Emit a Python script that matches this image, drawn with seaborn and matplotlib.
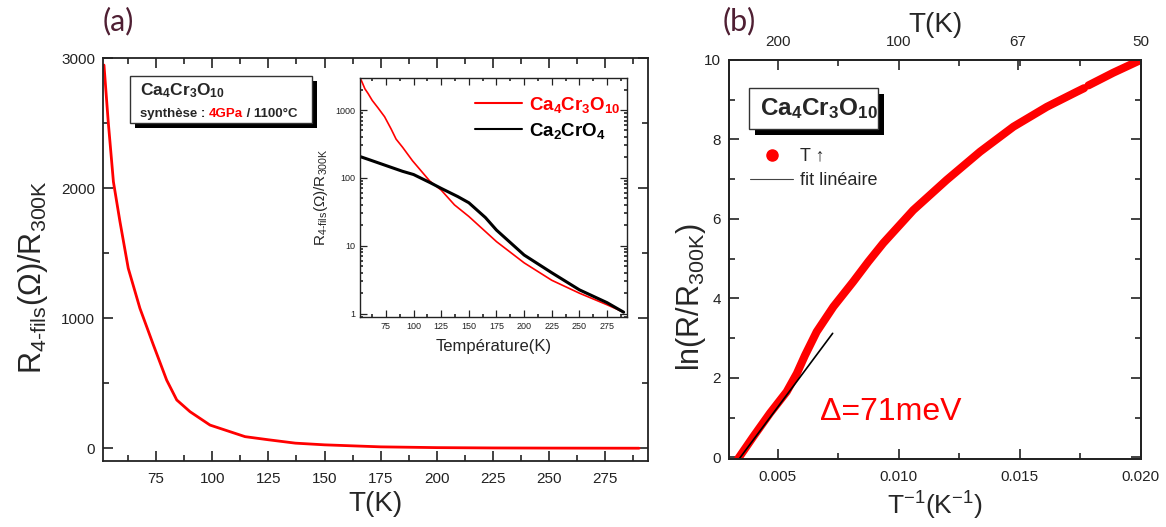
import numpy as np
import pandas as pd
import matplotlib
matplotlib.use('Agg')
import matplotlib.pyplot as plt
import seaborn as sns
from matplotlib.ticker import MultipleLocator, LogLocator, NullFormatter, FormatStrFormatter
from matplotlib.lines import Line2D
from matplotlib.patches import Rectangle

# (a) Ca4Cr3O10 : R/R300K vs T
temp_k = [51.8, 53.7, 56, 58.9, 62.6, 67.8, 73.8, 79.7, 84.2, 90.1, 99, 114.6, 125, 137,
          150, 175, 200, 225, 250, 275, 290]
r_ca4 = [2948, 2510, 2050, 1745, 1385, 1077, 795, 525, 372, 282, 179, 90, 66, 40,
         27, 11.5, 5.6, 3.1, 2.0, 1.35, 1.05]

# inset : Ca2CrO4 reference
temp_k2 = [52, 60, 75, 90, 100, 115, 125, 140, 150, 165, 175, 200, 225, 250, 275, 290]
r_ca2 = [205, 185, 152, 125, 112, 85, 70, 53, 43, 26, 17, 7.3, 4.0, 2.24, 1.45, 1.05]

# (b) ln(R/R300K) vs 1/T, two runs (small gap near 57 K)
inv_t = [0.00337, 0.00399, 0.00468, 0.00537, 0.00579, 0.00613, 0.00661, 0.0073, 0.00812,
         0.00874, 0.00936, 0.0106, 0.01198, 0.01336, 0.01474, 0.01612, 0.01736, 0.01766,
         0.01784, 0.01887, 0.0200]
ln_r = [-0.03, 0.52, 1.11, 1.65, 2.11, 2.57, 3.16, 3.79, 4.42,
        4.92, 5.39, 6.22, 6.98, 7.69, 8.32, 8.82, 9.20, 9.29,
        9.36, 9.68, 10.0]
run = [1] * 18 + [2] * 3

fit_x = [0.00337, 0.00727]
fit_y = [-0.07, 3.12]

top_ticks = [1 / 200, 1 / 100, 1 / 67, 1 / 50]
top_labels = ['200', '100', '67', '50']

label_a = r'$\mathbf{Ca_4Cr_3O_{10}}$'
label_ref = r'$\mathbf{Ca_2CrO_4}$'

sns.set_style('ticks')
plt.rcParams['font.family'] = ['Liberation Sans', 'DejaVu Sans']
plt.rcParams['mathtext.fontset'] = 'custom'
plt.rcParams['mathtext.rm'] = 'Liberation Sans'
plt.rcParams['mathtext.it'] = 'Liberation Sans:italic'
plt.rcParams['mathtext.bf'] = 'Liberation Sans:bold'
plt.rcParams['mathtext.default'] = 'regular'
plt.rcParams['axes.edgecolor'] = '#222222'
plt.rcParams['axes.linewidth'] = 1.3

fig = plt.figure(figsize=(11.66, 5.27), dpi=100)
ax_a = fig.add_axes([0.0886, 0.1258, 0.4672, 0.7636])
ax_in = fig.add_axes([0.3087, 0.399, 0.229, 0.4524])
ax_b = fig.add_axes([0.6255, 0.1285, 0.3528, 0.7577])


def style_ticks(ax, size, major=7, minor=4):
    ax.tick_params(which='both', direction='in', top=True, right=True, width=1.2,
                   labelsize=size, colors='#222222')
    ax.tick_params(which='major', length=major)
    ax.tick_params(which='minor', length=minor)


# ---- panel (a) ----
sns.lineplot(x=temp_k, y=r_ca4, ax=ax_a, color='red', lw=2)
ax_a.set_xlim(51.5, 294)
ax_a.set_ylim(-95, 3000)
ax_a.xaxis.set_major_locator(MultipleLocator(25))
ax_a.xaxis.set_minor_locator(MultipleLocator(12.5))
ax_a.yaxis.set_major_locator(MultipleLocator(1000))
ax_a.yaxis.set_minor_locator(MultipleLocator(500))
style_ticks(ax_a, 11)
ax_a.tick_params(axis='y', pad=6)
ax_a.tick_params(axis='x', pad=8)
ax_a.set_xlabel('T(K)', fontsize=20)
ax_a.set_ylabel(r'R$_{4\text{-}fils}$(Ω)/R$_{300K}$', fontsize=22)
ax_a.yaxis.set_label_coords(-0.098, 0.4565)

ax_a.add_patch(Rectangle((0.058, 0.826), 0.334, 0.118, transform=ax_a.transAxes,
                         facecolor='black', edgecolor='none', zorder=5))
ax_a.add_patch(Rectangle((0.049, 0.8385), 0.334, 0.1175, transform=ax_a.transAxes,
                         facecolor='white', edgecolor='#333333', lw=1, zorder=6))
ax_a.text(0.0675, 0.909, label_a, transform=ax_a.transAxes, fontsize=12.5,
          va='baseline', zorder=7)
t1 = ax_a.text(0.0675, 0.853, 'synthèse : ', transform=ax_a.transAxes, fontsize=9.5,
               fontweight='bold', va='baseline', zorder=7)
t2 = ax_a.annotate('4GPa', xy=(1, 0), xycoords=t1, va='bottom', fontsize=9.5,
                   fontweight='bold', color='red', zorder=7)
ax_a.annotate(' / 1100°C', xy=(1, 0), xycoords=t2, va='bottom', fontsize=9.5,
              fontweight='bold', zorder=7)

# ---- inset ----
sns.lineplot(x=temp_k, y=r_ca4, ax=ax_in, color='red', lw=1.2, label=label_a)
sns.lineplot(x=temp_k2, y=r_ca2, ax=ax_in, color='black', lw=2.2, label=label_ref)
ax_in.set_yscale('log')
ax_in.set_xlim(51.5, 293)
ax_in.set_ylim(0.9, 2930)
ax_in.set_yticks([1, 10, 100, 1000])
ax_in.set_yticklabels(['1', '10', '100', '1000'])
ax_in.yaxis.set_minor_locator(LogLocator(base=10, subs=np.arange(2, 10)))
ax_in.yaxis.set_minor_formatter(NullFormatter())
ax_in.xaxis.set_major_locator(MultipleLocator(25))
ax_in.xaxis.set_minor_locator(MultipleLocator(12.5))
style_ticks(ax_in, 6.5, major=5, minor=2.5)
ax_in.tick_params(width=0.9)
for sp in ax_in.spines.values():
    sp.set_linewidth(1.0)
ax_in.set_xlabel('Température(K)', fontsize=12, labelpad=6)
ax_in.set_ylabel(r'R$_{4\text{-}fils}$(Ω)/R$_{300K}$', fontsize=11, labelpad=4)
leg = ax_in.legend(loc='upper left', bbox_to_anchor=(0.43, 0.93), frameon=False,
                   prop={'size': 13.5}, handlelength=2.5,
                   handletextpad=0.4, labelspacing=0.3, borderpad=0, borderaxespad=0)
for txt, ln in zip(leg.get_texts(), leg.get_lines()):
    txt.set_color(ln.get_color())
    ln.set_linewidth(1.5)

# ---- panel (b) ----
sns.lineplot(x=inv_t, y=ln_r, units=run, estimator=None, ax=ax_b, color='red',
             lw=5.8, solid_capstyle='round')
sns.lineplot(x=fit_x, y=fit_y, ax=ax_b, color='black', lw=1.2)
ax_b.set_xlim(0.003, 0.020)
ax_b.set_ylim(-0.05, 10)
ax_b.xaxis.set_major_locator(MultipleLocator(0.005))
ax_b.xaxis.set_minor_locator(MultipleLocator(0.0025))
ax_b.xaxis.set_major_formatter(FormatStrFormatter('%.3f'))
ax_b.yaxis.set_major_locator(MultipleLocator(2))
ax_b.yaxis.set_minor_locator(MultipleLocator(1))
style_ticks(ax_b, 11)
ax_b.tick_params(top=False, pad=8, axis='x')
ax_b.tick_params(axis='y', pad=6)
ax_b.set_xlabel('T$^{-1}$(K$^{-1}$)', fontsize=19)
ax_b.set_ylabel('ln(R/R$_{300K}$)', fontsize=22)
ax_b.yaxis.set_label_coords(-0.052, 0.406)

top = ax_b.twiny()
top.set_xlim(ax_b.get_xlim())
top.set_xticks(top_ticks)
top.set_xticklabels(top_labels)
top.xaxis.set_minor_locator(MultipleLocator(0.0025))
top.tick_params(which='both', direction='in', width=1.2, labelsize=11, pad=8)
top.tick_params(which='major', length=7)
top.tick_params(which='minor', length=4)
top.set_xlabel('T(K)', fontsize=20, labelpad=2)

ax_b.add_patch(Rectangle((0.063, 0.811), 0.312, 0.103, transform=ax_b.transAxes,
                         facecolor='black', edgecolor='none', zorder=5))
ax_b.add_patch(Rectangle((0.0486, 0.8264), 0.312, 0.1027, transform=ax_b.transAxes,
                         facecolor='white', edgecolor='#333333', lw=1, zorder=6))
ax_b.text(0.0746, 0.862, label_a, transform=ax_b.transAxes, fontsize=17.5,
          va='baseline', zorder=7)

handles = [Line2D([], [], ls='none', marker='o', color='red', ms=8),
           Line2D([], [], color='#444444', lw=0.8)]
ax_b.legend(handles, ['T ↑', 'fit linéaire'], loc='upper left', bbox_to_anchor=(0.05, 0.78),
            frameon=False, fontsize=13, handlelength=2.4, handletextpad=0.35,
            labelspacing=0.4, borderpad=0, borderaxespad=0)
ax_b.text(0.2205, 0.0984, 'Δ=71meV', transform=ax_b.transAxes, color='red',
          fontsize=23, va='baseline')

fig.text(103 / 1166, 1 - 30 / 527, '(a)', family='Lato', fontsize=22, color='#4f1f33',
         va='baseline')
fig.text(723 / 1166, 1 - 30 / 527, '(b)', family='Lato', fontsize=22, color='#4f1f33',
         va='baseline')

fig.savefig('out.png', dpi=100)
